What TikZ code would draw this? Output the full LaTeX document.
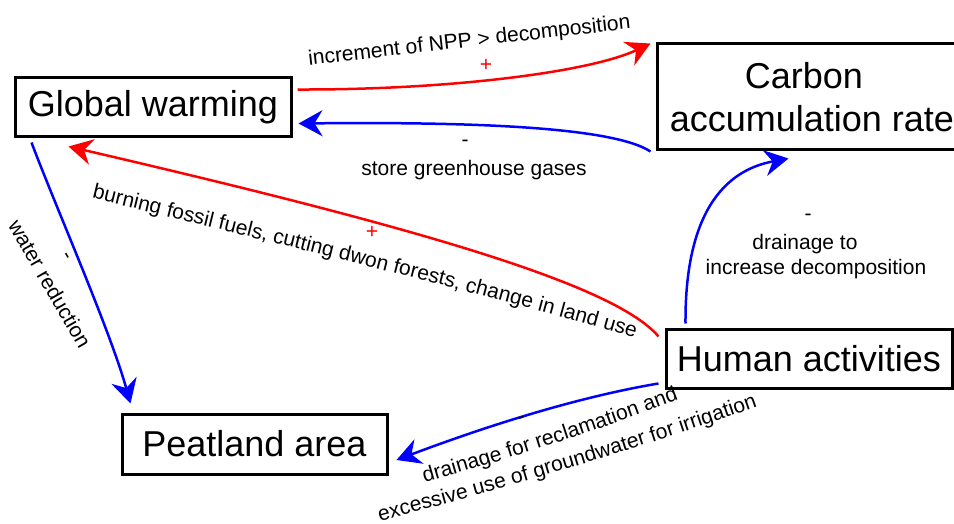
\documentclass[tikz,border=0pt]{standalone}
\usepackage{fontspec}
\setmainfont{Liberation Sans}
\usetikzlibrary{arrows.meta,calc,decorations.text}
\newcommand\boxfont{\fontsize{36}{43}\selectfont}
\newcommand\lblfont{\fontsize{21}{24}\selectfont}
\newcommand\sgnfont{\fontsize{21}{22}\selectfont}
\begin{document}
\begin{tikzpicture}[x=1pt,y=-1pt,
  stock/.style={draw, line width=3pt, inner sep=0pt, font=\boxfont, align=center},
  link/.style={line width=2.5pt, -{Stealth[length=24pt,width=26pt,inset=8pt]}},
  lbl/.style={font=\lblfont, inner sep=0pt},
  sgn/.style={font=\sgnfont, inner sep=0pt},
  along/.style={decorate, decoration={text along path, text align=center, text={|\lblfont|#1}}}
]
\useasboundingbox (0,0) rectangle (954,524);
\clip (0,0) rectangle (954,524);

% stocks
\node[stock, minimum width=276pt, minimum height=59pt] (gw) at (153,107.5) {Global warming};
\node[stock, minimum width=310pt, minimum height=106pt] (car) at (812,97) {Carbon\hspace*{16pt}\\accumulation rate};
\node[stock, minimum width=286pt, minimum height=59pt] (hum) at (809,358.5) {Human activities};
\node[stock, minimum width=265pt, minimum height=60pt] (peat) at (254.5,444) {Peatland area};

% connectors
\draw[link, red] ($(gw.north east)+(5,13)$) .. controls (450,90) and (590,72) .. ($(car.north west)+(-5,1)$);
\draw[link, blue] ($(car.south west)+(-5,0)$) .. controls (610,125) and (450,122) .. ($(gw.east)+(6,16)$);
\draw[link, red] ($(hum.north west)+(-6,9)$) .. controls (615,285) and (420,228) .. ($(gw.south west)+(55,8)$);
\draw[link, blue] ($(gw.south west)+(18,4)$) .. controls (55,205) and (110,330) .. ($(peat.north west)+(10,-9)$);
\draw[link, blue] ($(hum.north west)+(21,-4)$) .. controls (685,255) and (700,175) .. ($(car.south west)+(133,7)$);
\draw[link, blue] ($(hum.south west)+(-6,-6)$) .. controls (560,400) and (455,438) .. ($(peat.east)+(8,16)$);

% labels
\node[lbl, anchor=base, rotate=6.5] (l1) at (470,47) {increment of NPP > decomposition};
\node[sgn, red] (s1) at (486,65) {+};
\node[lbl] (s2) at (465,143) {-};
\node[lbl, anchor=base] (l2) at (474,176) {store greenhouse gases};
\path[along={burning fossil fuels, cutting dwon forests, change in land use}]
  (84,196) .. controls (270,242) and (480,292) .. (642,340);
\node[sgn, red] (s3) at (372,232) {+};
\node[lbl, rotate=-60] (l3) at (50,284) {water reduction};
\node[lbl, rotate=-60] (s4) at (65,257) {-};
\node[lbl] (s5) at (808,217) {-};
\node[lbl, anchor=base] (l5a) at (805,250) {drainage to};
\node[lbl, anchor=base] (l5b) at (816,274) {increase decomposition};
\node[lbl, rotate=19] (s6) at (522,420) {-};
\path[along={drainage for reclamation and}]
  (420,484) .. controls (508,459) and (595,432) .. (683,398);
\path[along={excessive use of groundwater for irrigation}]
  (372,523) .. controls (503,490) and (634,450) .. (765,404);
\end{tikzpicture}
\end{document}
